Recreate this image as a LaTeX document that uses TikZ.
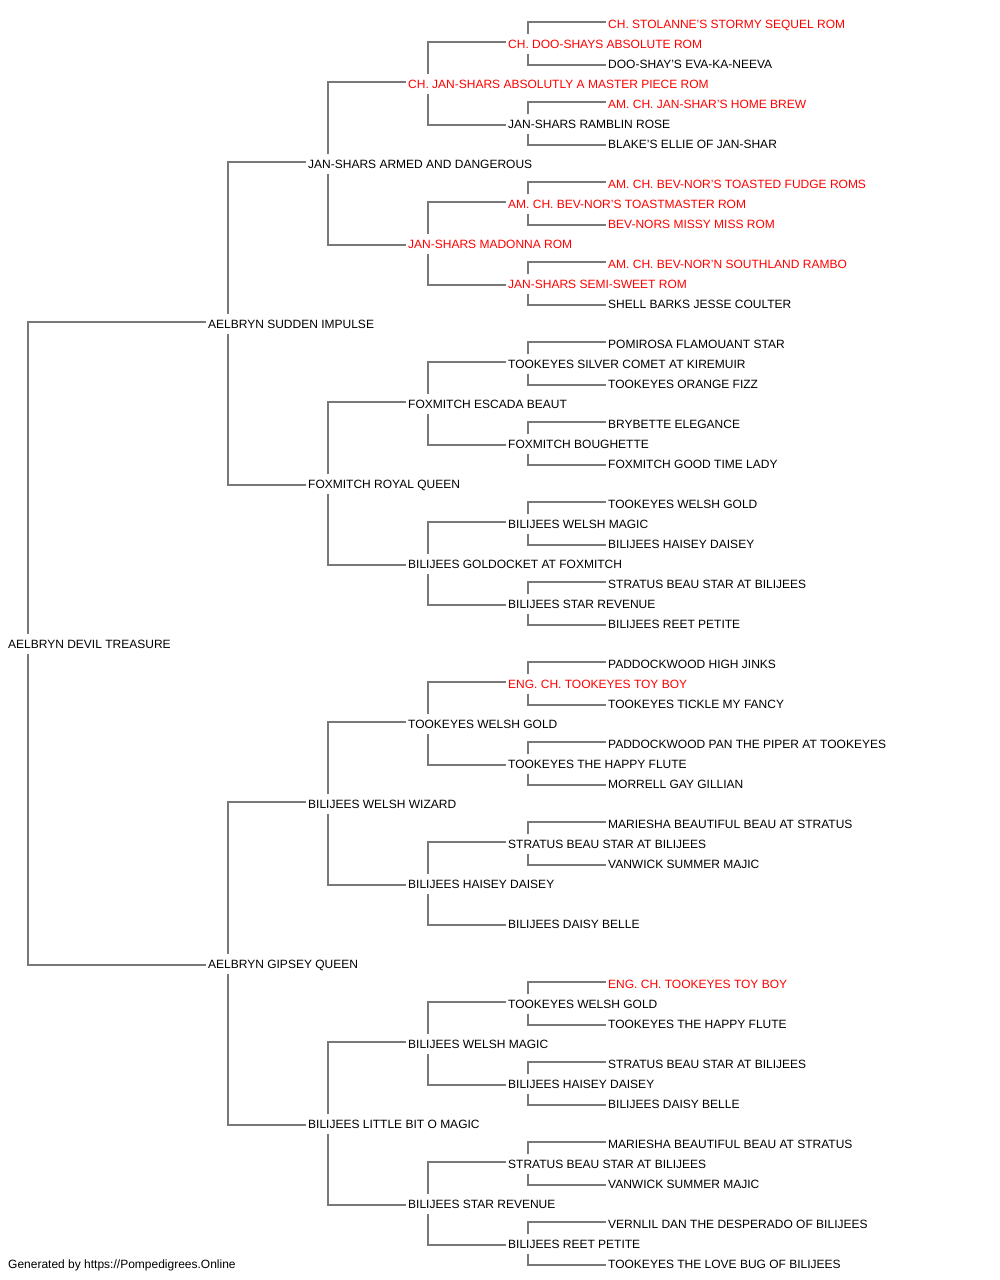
\documentclass[tikz,border=0pt]{standalone}
\usepackage{fontspec}
\setmainfont{Liberation Sans}
\definecolor{linegray}{RGB}{120,120,120}
\definecolor{champred}{RGB}{255,0,0}
\begin{document}
\begin{tikzpicture}[x=1pt,y=-1pt,
  dog/.style={anchor=west, inner xsep=2pt, inner ysep=5.7pt, text height=8.6pt, text depth=0pt, font=\fontsize{12}{14}\selectfont},
  champ/.style={dog, text=champred},
  link/.style={draw=linegray, line width=1.2pt}]
\useasboundingbox (0,0) rectangle (1000,1280);

% generation 0 and 1
\node[dog] (r) at (6,644) {AELBRYN DEVIL TREASURE};
\node[dog] (rs) at (206,324) {AELBRYN SUDDEN IMPULSE};
\node[dog] (rd) at (206,964) {AELBRYN GIPSEY QUEEN};

% generation 2
\node[dog] (rss) at (306,164) {JAN-SHARS ARMED AND DANGEROUS};
\node[dog] (rsd) at (306,484) {FOXMITCH ROYAL QUEEN};
\node[dog] (rds) at (306,804) {BILIJEES WELSH WIZARD};
\node[dog] (rdd) at (306,1124) {BILIJEES LITTLE BIT O MAGIC};

% generation 3
\node[champ] (rsss) at (406,84) {CH. JAN-SHARS ABSOLUTLY A MASTER PIECE ROM};
\node[champ] (rssd) at (406,244) {JAN-SHARS MADONNA ROM};
\node[dog] (rsds) at (406,404) {FOXMITCH ESCADA BEAUT};
\node[dog] (rsdd) at (406,564) {BILIJEES GOLDOCKET AT FOXMITCH};
\node[dog] (rdss) at (406,724) {TOOKEYES WELSH GOLD};
\node[dog] (rdsd) at (406,884) {BILIJEES HAISEY DAISEY};
\node[dog] (rdds) at (406,1044) {BILIJEES WELSH MAGIC};
\node[dog] (rddd) at (406,1204) {BILIJEES STAR REVENUE};

% generation 4
\node[champ] (rssss) at (506,44) {CH. DOO-SHAYS ABSOLUTE ROM};
\node[dog] (rsssd) at (506,124) {JAN-SHARS RAMBLIN ROSE};
\node[champ] (rssds) at (506,204) {AM. CH. BEV-NOR'S TOASTMASTER ROM};
\node[champ] (rssdd) at (506,284) {JAN-SHARS SEMI-SWEET ROM};
\node[dog] (rsdss) at (506,364) {TOOKEYES SILVER COMET AT KIREMUIR};
\node[dog] (rsdsd) at (506,444) {FOXMITCH BOUGHETTE};
\node[dog] (rsdds) at (506,524) {BILIJEES WELSH MAGIC};
\node[dog] (rsddd) at (506,604) {BILIJEES STAR REVENUE};
\node[champ] (rdsss) at (506,684) {ENG. CH. TOOKEYES TOY BOY};
\node[dog] (rdssd) at (506,764) {TOOKEYES THE HAPPY FLUTE};
\node[dog] (rdsds) at (506,844) {STRATUS BEAU STAR AT BILIJEES};
\node[dog] (rdsdd) at (506,924) {BILIJEES DAISY BELLE};
\node[dog] (rddss) at (506,1004) {TOOKEYES WELSH GOLD};
\node[dog] (rddsd) at (506,1084) {BILIJEES HAISEY DAISEY};
\node[dog] (rddds) at (506,1164) {STRATUS BEAU STAR AT BILIJEES};
\node[dog] (rdddd) at (506,1244) {BILIJEES REET PETITE};

% generation 5
\node[champ] (rsssss) at (606,24) {CH. STOLANNE'S STORMY SEQUEL ROM};
\node[dog] (rssssd) at (606,64) {DOO-SHAY'S EVA-KA-NEEVA};
\node[champ] (rsssds) at (606,104) {AM. CH. JAN-SHAR'S HOME BREW};
\node[dog] (rsssdd) at (606,144) {BLAKE'S ELLIE OF JAN-SHAR};
\node[champ] (rssdss) at (606,184) {AM. CH. BEV-NOR'S TOASTED FUDGE ROMS};
\node[champ] (rssdsd) at (606,224) {BEV-NORS MISSY MISS ROM};
\node[champ] (rssdds) at (606,264) {AM. CH. BEV-NOR'N SOUTHLAND RAMBO};
\node[dog] (rssddd) at (606,304) {SHELL BARKS JESSE COULTER};
\node[dog] (rsdsss) at (606,344) {POMIROSA FLAMOUANT STAR};
\node[dog] (rsdssd) at (606,384) {TOOKEYES ORANGE FIZZ};
\node[dog] (rsdsds) at (606,424) {BRYBETTE ELEGANCE};
\node[dog] (rsdsdd) at (606,464) {FOXMITCH GOOD TIME LADY};
\node[dog] (rsddss) at (606,504) {TOOKEYES WELSH GOLD};
\node[dog] (rsddsd) at (606,544) {BILIJEES HAISEY DAISEY};
\node[dog] (rsddds) at (606,584) {STRATUS BEAU STAR AT BILIJEES};
\node[dog] (rsdddd) at (606,624) {BILIJEES REET PETITE};
\node[dog] (rdssss) at (606,664) {PADDOCKWOOD HIGH JINKS};
\node[dog] (rdsssd) at (606,704) {TOOKEYES TICKLE MY FANCY};
\node[dog] (rdssds) at (606,744) {PADDOCKWOOD PAN THE PIPER AT TOOKEYES};
\node[dog] (rdssdd) at (606,784) {MORRELL GAY GILLIAN};
\node[dog] (rdsdss) at (606,824) {MARIESHA BEAUTIFUL BEAU AT STRATUS};
\node[dog] (rdsdsd) at (606,864) {VANWICK SUMMER MAJIC};
\node[champ] (rddsss) at (606,984) {ENG. CH. TOOKEYES TOY BOY};
\node[dog] (rddssd) at (606,1024) {TOOKEYES THE HAPPY FLUTE};
\node[dog] (rddsds) at (606,1064) {STRATUS BEAU STAR AT BILIJEES};
\node[dog] (rddsdd) at (606,1104) {BILIJEES DAISY BELLE};
\node[dog] (rdddss) at (606,1144) {MARIESHA BEAUTIFUL BEAU AT STRATUS};
\node[dog] (rdddsd) at (606,1184) {VANWICK SUMMER MAJIC};
\node[dog] (rdddds) at (606,1224) {VERNLIL DAN THE DESPERADO OF BILIJEES};
\node[dog] (rddddd) at (606,1264) {TOOKEYES THE LOVE BUG OF BILIJEES};

\node[dog] (gen) at (6,1264) {Generated by https://Pompedigrees.Online};

% sire and dam brackets
\foreach \who in {r,rs,rd,rss,rsd,rds,rdd,rsss,rssd,rsds,rsdd,rdss,rdsd,rdds,rddd,
    rssss,rsssd,rssds,rssdd,rsdss,rsdsd,rsdds,rsddd,rdsss,rdssd,rdsds,rddss,rddsd,rddds,rdddd} {
  \draw[link] ([xshift=22pt]\who.north west) |- ([yshift=2pt]\who s.west);
  \draw[link] ([xshift=22pt]\who.south west) |- ([yshift=-1pt]\who d.west);
}
\end{tikzpicture}
\end{document}
